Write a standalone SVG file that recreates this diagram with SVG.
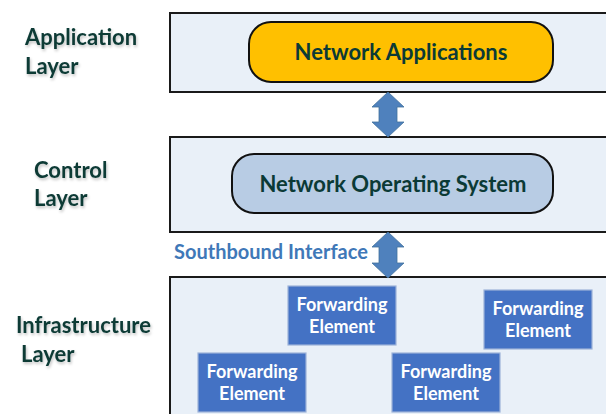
<svg xmlns="http://www.w3.org/2000/svg" width="606" height="414" viewBox="0 0 606 414">
<defs>
<filter id="glow" x="-10%" y="-30%" width="120%" height="160%">
<feGaussianBlur in="SourceAlpha" stdDeviation="1.5"/>
<feOffset dx="1" dy="1.5"/>
<feComponentTransfer><feFuncA type="linear" slope="0.25"/></feComponentTransfer>
<feMerge><feMergeNode/><feMergeNode in="SourceGraphic"/></feMerge>
</filter>
</defs>
<style>
.layer{fill:#E9F0F8;stroke:#1a1a1a;stroke-width:2}
.lbl{font-family:Lato,"Liberation Sans",sans-serif;font-weight:bold;font-size:22px;fill:#0B3A36}
.pill{stroke:#111;stroke-width:2}
.ptxt{font-family:Lato,"Liberation Sans",sans-serif;font-weight:bold;font-size:22px;fill:#0B3A36;text-anchor:middle}
.fe{fill:#4472C4;stroke:#9DB3D9;stroke-width:1.2}
.fetxt{font-family:Lato,"Liberation Sans",sans-serif;font-weight:bold;font-size:18px;fill:#fff;text-anchor:middle}
.arr{fill:#4F81BD;stroke:#41719C;stroke-width:0.8}
</style>
<rect width="606" height="414" fill="#fff"/>
<g id="labels" filter="url(#glow)">
<text class="lbl" x="25" y="45">Application</text>
<text class="lbl" x="25" y="74">Layer</text>
<text class="lbl" x="34" y="178">Control</text>
<text class="lbl" x="34" y="206">Layer</text>
<text class="lbl" x="16" y="333">Infrastructure</text>
<text class="lbl" x="21" y="362">Layer</text>
</g>
<g id="app-layer">
<rect class="layer" x="170" y="13" width="440" height="79"/>
</g>
<g id="control-layer">
<rect class="layer" x="170" y="137" width="440" height="95"/>
</g>
<g id="infra-layer">
<rect class="layer" x="170" y="277" width="440" height="150"/>
</g>
<g id="net-apps">
<rect class="pill" x="249" y="22" width="304" height="60" rx="22" fill="#FFC000"/>
<text class="ptxt" x="401" y="60">Network Applications</text>
</g>
<g id="nos">
<rect class="pill" x="232" y="154" width="321" height="59" rx="22" fill="#B8CCE4"/>
<text class="ptxt" x="393" y="192">Network Operating System</text>
</g>
<g id="fe1">
<rect class="fe" x="288" y="286" width="108" height="59"/>
<text class="fetxt" x="342" y="311">Forwarding</text>
<text class="fetxt" x="342" y="333">Element</text>
</g>
<g id="fe2">
<rect class="fe" x="484" y="290" width="108" height="59"/>
<text class="fetxt" x="538" y="315">Forwarding</text>
<text class="fetxt" x="538" y="337">Element</text>
</g>
<g id="fe3">
<rect class="fe" x="198" y="353" width="108" height="59"/>
<text class="fetxt" x="252" y="378">Forwarding</text>
<text class="fetxt" x="252" y="400">Element</text>
</g>
<g id="fe4">
<rect class="fe" x="392" y="353" width="108" height="59"/>
<text class="fetxt" x="446" y="378">Forwarding</text>
<text class="fetxt" x="446" y="400">Element</text>
</g>
<g id="connectors">
<polygon class="arr" points="388,92 404,107 397,107 397,122 404,122 388,137 372,122 379,122 379,107 372,107"/>
<polygon class="arr" points="388,232 404,247 397,247 397,263 404,263 388,278 372,263 379,263 379,247 372,247"/>
<text x="174" y="259" font-family="Lato,'Liberation Sans',sans-serif" font-weight="bold" font-size="20" fill="#3F78B8">Southbound Interface</text>
</g>
</svg>
